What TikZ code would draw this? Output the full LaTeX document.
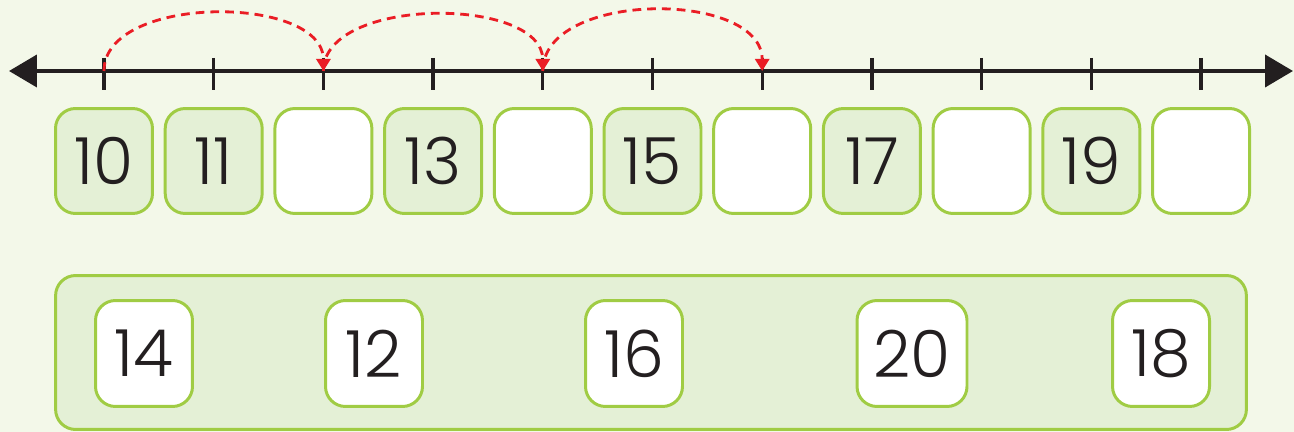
\documentclass[tikz,border=0pt]{standalone}
\usepackage{fontspec}
\setmainfont{Poppins Light}
\usepackage{xcolor}
\definecolor{pagebg}{HTML}{F3F8E9}
\definecolor{leafgreen}{HTML}{A0CC44}
\definecolor{leaffill}{HTML}{E4F0D6}
\definecolor{inkblack}{HTML}{231F20}
\definecolor{hopred}{HTML}{EA1D25}
\usepackage{tikz}
\usetikzlibrary{arrows.meta,calc}
\tikzset{
  numbox/.style={rectangle,rounded corners=0.4cm,draw=leafgreen,line width=1.7pt,
    minimum width=1.94cm,minimum height=2.1cm,inner sep=0pt,
    font=\fontsize{37}{40}\selectfont,text=inkblack},
  given/.style={numbox,fill=leaffill},
  blank/.style={numbox,fill=white},
  chip/.style={numbox,fill=white,minimum height=2.12cm},
  hop/.style={hopred,line width=1.6pt,dash pattern=on 5pt off 3.4pt,
    -{Triangle[length=0.24cm,width=0.28cm]}}
}

\begin{document}
\begin{tikzpicture}[x=0.02cm,y=-0.02cm]
  \fill[pagebg] (0,0) rectangle (1294,432);
  \useasboundingbox (0,0) rectangle (1294,432);
  % number line
  \coordinate (lend) at (9,71);
  \coordinate (rend) at (1293,71);
  \draw[inkblack,line width=2.3pt,
        {Triangle[length=0.56cm,width=0.64cm]}-{Triangle[length=0.56cm,width=0.64cm]}]
    (lend) -- (rend);
  \foreach \i in {1,...,11}
    \coordinate (t\i) at ({104+(\i-1)*109.7},71);
  \foreach \i in {1,...,11}
    \draw[inkblack,line width=1.9pt] (t\i)+(0,-13)--+(0,19);
  % top row
  \foreach \i/\v in {1/10,2/11,4/13,6/15,8/17,10/19}
    \node[given] (b\i) at ($(t\i)+(0,90)$) {\v};
  \foreach \i in {3,5,7,9,11}
    \node[blank] (b\i) at ($(t\i)+(0,90)$) {};
  % answer pool
  \node[rectangle,rounded corners=0.4cm,draw=leafgreen,fill=leaffill,line width=1.7pt,
        minimum width=23.82cm,minimum height=3.08cm] (pool) at (651,352.5) {};
  \foreach \x/\v in {144/14,374/12,634/16,1161/18}
    \node[chip] (c\v) at (\x,353.5) {\v};
  \node[chip,minimum width=2.2cm] (c20) at (912,353.5) {20};
  % hops
  \draw[hop] (t1) .. controls +(0,-77) and +(0,-77) .. (t3);
  \draw[hop] (t3) .. controls +(0,-75) and +(0,-75) .. (t5);
  \draw[hop] (t5) .. controls +(0,-81) and +(0,-81) .. (t7);
\end{tikzpicture}
\end{document}
